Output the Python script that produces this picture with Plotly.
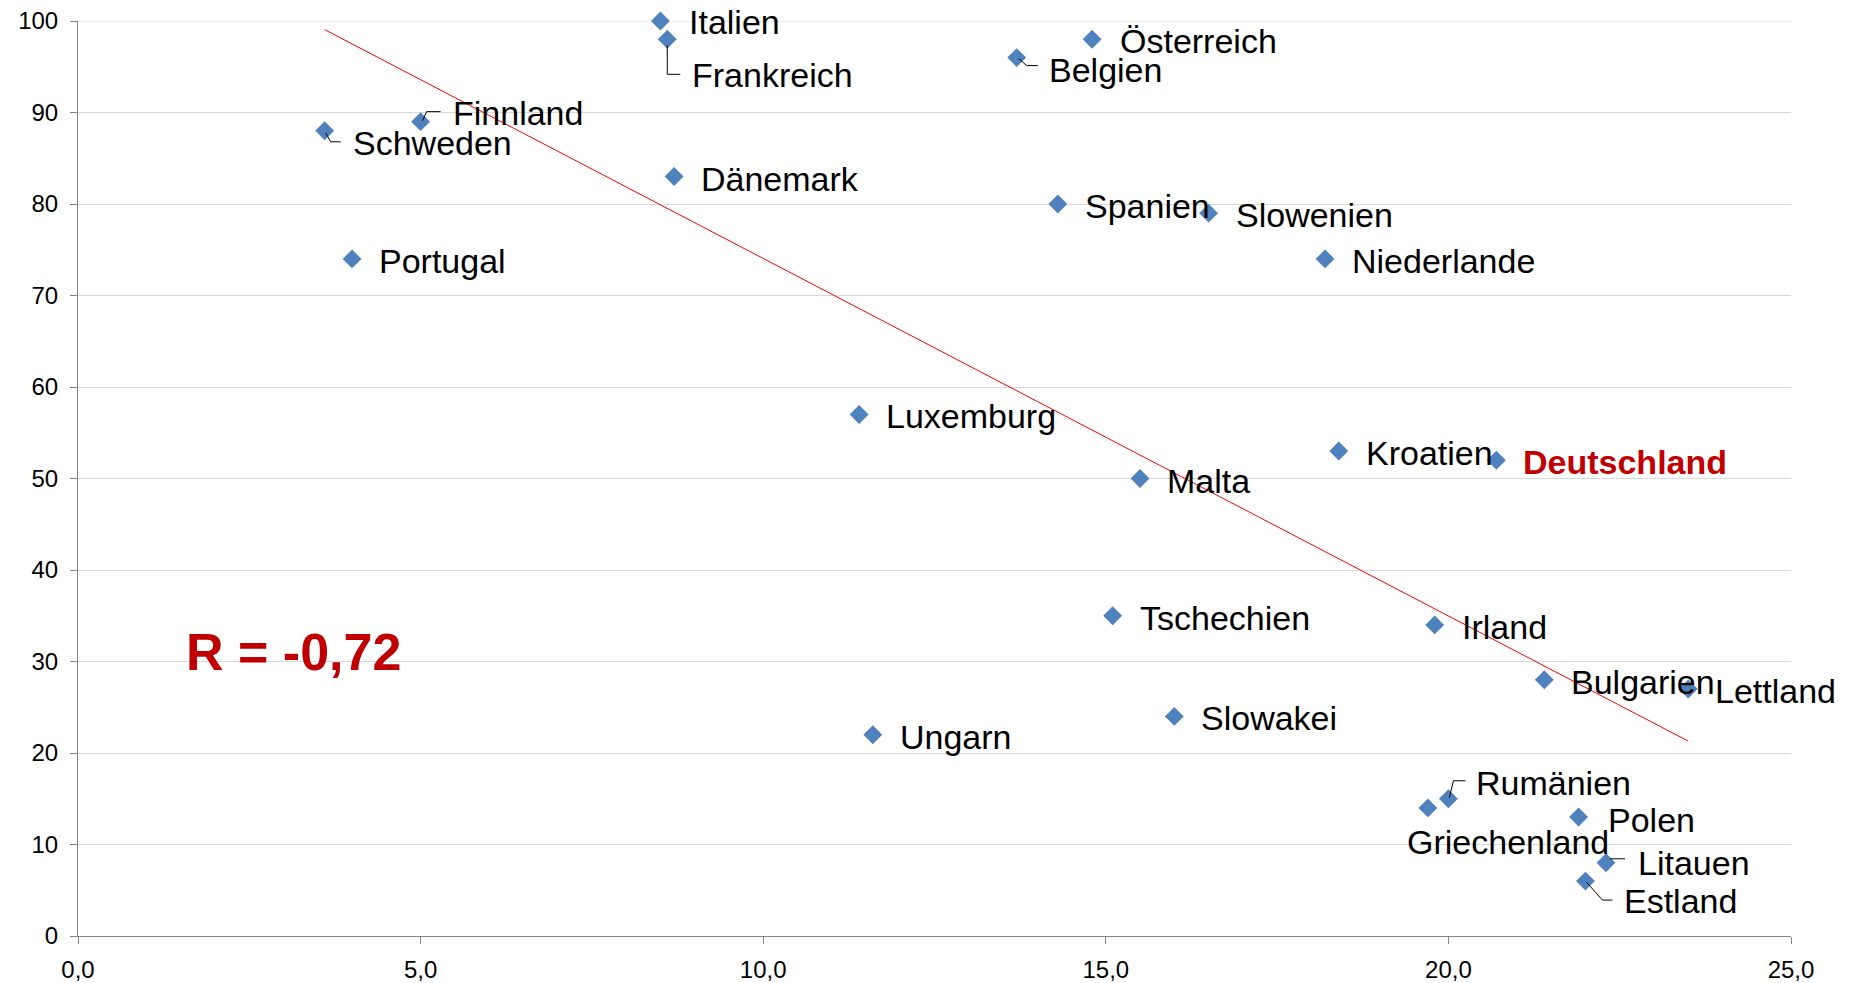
import numpy as np
import plotly.graph_objects as go

countries = ["Italien", "Frankreich", "Österreich", "Belgien", "Finnland", "Schweden",
             "Dänemark", "Spanien", "Slowenien", "Portugal", "Niederlande", "Luxemburg",
             "Kroatien", "Deutschland", "Malta", "Tschechien", "Irland", "Bulgarien",
             "Lettland", "Slowakei", "Ungarn", "Rumänien", "Griechenland", "Polen",
             "Litauen", "Estland"]
x_vals = [8.5, 8.6, 14.8, 13.7, 5.0, 3.6,
          8.7, 14.3, 16.5, 4.0, 18.2, 11.4,
          18.4, 20.7, 15.5, 15.1, 19.8, 21.4,
          23.5, 16.0, 11.6, 20.0, 19.7, 21.9,
          22.3, 22.0]
y_vals = [100, 98, 98, 96, 89, 88,
          83, 80, 79, 74, 74, 57,
          53, 52, 50, 35, 34, 28,
          27, 24, 22, 15, 14, 13,
          8, 6]
x_ticks = [0, 5, 10, 15, 20, 25]
y_ticks = [0, 10, 20, 30, 40, 50, 60, 70, 80, 90, 100]
r_text = "R = -0,72"

# label offsets in pixels (dx right, dy down) and optional leader paths
label_off = {
    "Italien": (27, 1), "Frankreich": (23, 36), "Österreich": (26, 2), "Belgien": (30, 12),
    "Finnland": (30, -9), "Schweden": (26, 12), "Rumänien": (26, -16),
    "Griechenland": (-23, 34), "Polen": (27, 3), "Litauen": (30, 0), "Estland": (37, 20),
}
leaders = {
    "Frankreich": [(0, 6), (0, 35), (13, 35)],
    "Belgien": [(2, 1), (10, 8), (21, 8)],
    "Finnland": [(2, -1), (6, -10), (20, -10)],
    "Schweden": [(1, 2), (6, 11), (16, 11)],
    "Rumänien": [(1, -1), (5, -18), (17, -18)],
    "Litauen": [(4, -4), (19, -4)],
    "Estland": [(1, 1), (17, 19), (27, 19)],
}

LABEL_FONT = "Liberation Sans, Arial, sans-serif"
TICK_FONT = "Liberation Sans, Arial, sans-serif"

# trendline (least squares over data)
m, b = np.polyfit(x_vals, y_vals, 1)
xt = [min(x_vals), max(x_vals)]
yt = [m * v + b for v in xt]

fig = go.Figure()
fig.add_trace(go.Scatter(x=xt, y=yt, mode="lines", line=dict(color="#FF0000", width=1),
                         hoverinfo="skip", showlegend=False))
fig.add_trace(go.Scatter(x=x_vals, y=y_vals, mode="markers", text=countries, cliponaxis=False,
                         marker=dict(symbol="diamond", size=14.5, color="#4F81BD"),
                         showlegend=False))

annotations = []
shapes = [dict(type="line", xref="paper", yref="y", x0=0, x1=1, y0=y_ticks[-1], y1=y_ticks[-1],
               layer="below", line=dict(color="#D9D9D9", width=1))]
for c, xv, yv in zip(countries, x_vals, y_vals):
    dx, dy = label_off.get(c, (25, 2))
    is_de = c == "Deutschland"
    annotations.append(dict(
        x=xv, y=yv, xref="x", yref="y", text=("<b>%s</b>" % c) if is_de else c,
        showarrow=False, xanchor="left", yanchor="middle",
        xshift=dx, yshift=-dy,
        font=dict(family=LABEL_FONT, size=34, color="#C00000" if is_de else "#000000"),
    ))
    if c in leaders:
        pts = leaders[c]
        path = "M " + " L ".join("%g,%g" % (px, -py) for px, py in pts)
        shapes.append(dict(type="path", xref="x", yref="y", xsizemode="pixel", ysizemode="pixel",
                           xanchor=xv, yanchor=yv, path=path,
                           line=dict(color="#000000", width=1)))

annotations.append(dict(x=1.55, y=31, xref="x", yref="y", text="<b>%s</b>" % r_text,
                        showarrow=False, xanchor="left", yanchor="middle",
                        font=dict(family=TICK_FONT, size=52, color="#C00000")))

fig.update_layout(
    width=1857, height=983,
    margin=dict(l=70, r=74, t=13, b=55),
    paper_bgcolor="white", plot_bgcolor="white",
    separators=",.",
    annotations=annotations, shapes=shapes,
    xaxis=dict(range=[0, 25], tickvals=x_ticks, tickformat=".1f", showgrid=False,
               showline=True, linecolor="#868686", linewidth=1, automargin=False,
               ticks="outside", ticklen=7, tickcolor="#868686", ticklabelstandoff=5,
               ticklabeloverflow="allow",
               tickfont=dict(family=TICK_FONT, size=24, color="#000000"),
               zeroline=False, fixedrange=True),
    yaxis=dict(range=[0, 100], tickvals=y_ticks, showgrid=True, gridcolor="#D9D9D9", gridwidth=1,
               showline=True, linecolor="#868686", linewidth=1, automargin=False,
               ticks="outside", ticklen=7, tickcolor="#868686", ticklabelstandoff=7,
               ticklabeloverflow="allow",
               tickfont=dict(family=TICK_FONT, size=24, color="#000000"),
               zeroline=False, fixedrange=True),
)

fig.write_html("out.html")
